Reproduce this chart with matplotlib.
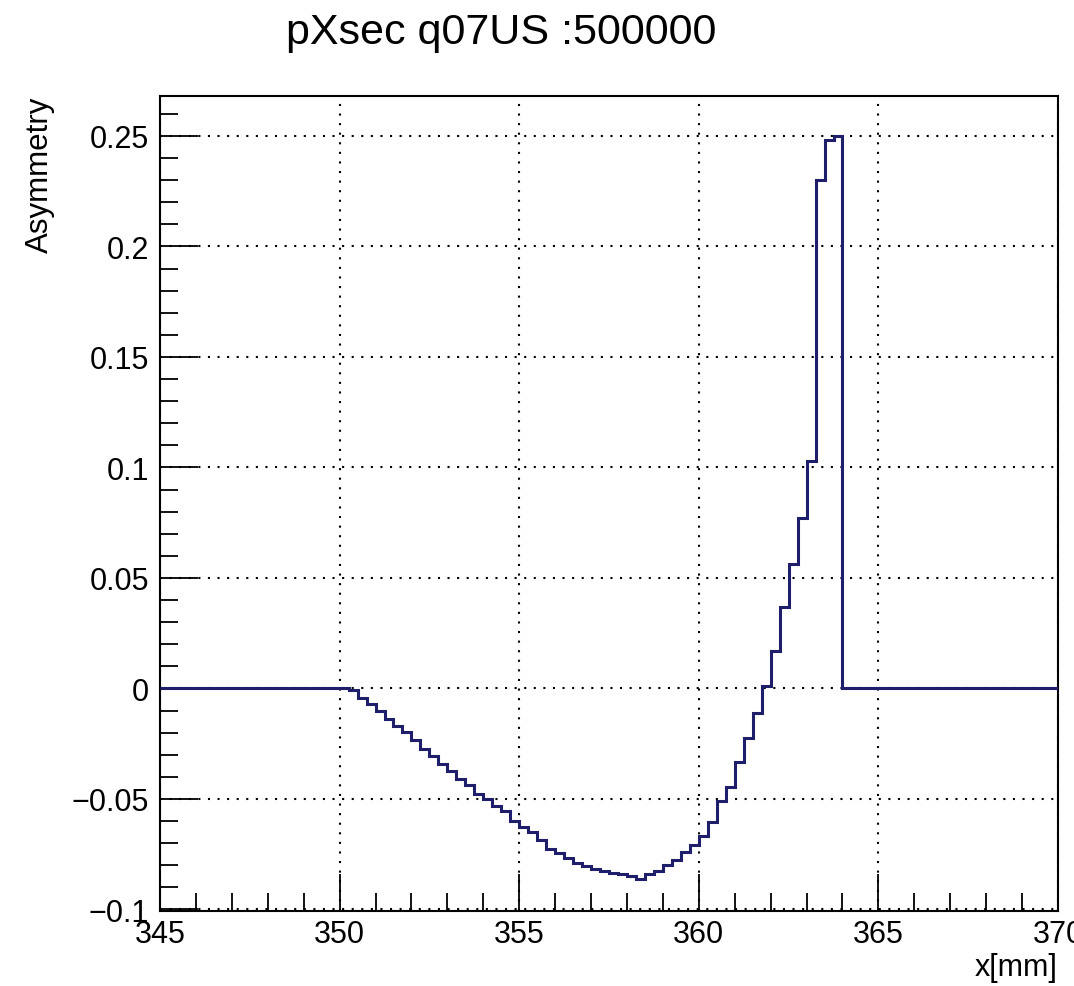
import numpy as np
import matplotlib
matplotlib.use("Agg")
import matplotlib.pyplot as plt
from matplotlib.ticker import MultipleLocator, FuncFormatter

# ---------------- data ----------------
x_low = 345.0
x_high = 370.0
n_bins = 100
title = "pXsec q07US :500000"
x_title = "x[mm]"
y_title = "Asymmetry"

leading_zero_bins = 21
asym_values = [
    -0.0008, -0.0045, -0.0072, -0.0102, -0.0136, -0.0169, -0.0196, -0.0234,
    -0.0272, -0.0305, -0.0341, -0.0375, -0.0408, -0.0438, -0.0477, -0.0502,
    -0.0530, -0.0553, -0.0600, -0.0625, -0.0648, -0.0686, -0.0725, -0.0743,
    -0.0766, -0.0789, -0.0804, -0.0815, -0.0826, -0.0837, -0.0841, -0.0849,
    -0.0863, -0.0838, -0.0827, -0.0801, -0.0774, -0.0741, -0.0710, -0.0668,
    -0.0605, -0.0510, -0.0447, -0.0334, -0.0223, -0.0113, 0.0010, 0.0169,
    0.0368, 0.0562, 0.0773, 0.1030, 0.2300, 0.2483, 0.2502,
]
trailing_zero_bins = n_bins - leading_zero_bins - len(asym_values)
asymmetry = np.array([0.0] * leading_zero_bins + asym_values + [0.0] * trailing_zero_bins)
edges = np.linspace(x_low, x_high, n_bins + 1)

# ---------------- figure ----------------
W, H = 1074, 987
DPI = 100
plt.rcParams['font.family'] = ['Liberation Sans', 'DejaVu Sans']
fig = plt.figure(figsize=(W / DPI, H / DPI), dpi=DPI)
fig.patch.set_facecolor('white')

L, R, T, B = 160, 1058, 97, 912
ax = fig.add_axes([L / W, 1 - B / H, (R - L) / W, (B - T) / H])

line_col = '#1e1e6a'
ax.stairs(asymmetry, edges, color=line_col, linewidth=2.2, baseline=None, zorder=3)

ax.set_xlim(x_low, x_high)
ax.set_ylim(-0.1007, 0.2681)

ax.xaxis.set_major_locator(MultipleLocator(5))
ax.xaxis.set_minor_locator(MultipleLocator(1))
ax.yaxis.set_major_locator(MultipleLocator(0.05))
ax.yaxis.set_minor_locator(MultipleLocator(0.01))

def yfmt(v, pos):
    if abs(v) < 1e-9:
        return "0"
    s = ("%g" % round(v, 3))
    return s.replace('-', '\u2212')

ax.yaxis.set_major_formatter(FuncFormatter(yfmt))
ax.xaxis.set_major_formatter(FuncFormatter(lambda v, p: "%d" % round(v)))

ax.tick_params(axis='both', which='both', direction='in', top=False, right=False,
               colors='black', width=1.3)
ax.tick_params(axis='x', which='major', length=27, labelsize=22, pad=6)
ax.tick_params(axis='x', which='minor', length=13)
ax.tick_params(axis='y', which='major', length=27, labelsize=22, pad=8)
ax.tick_params(axis='y', which='minor', length=13)

for sp in ax.spines.values():
    sp.set_linewidth(1.5)
    sp.set_color('black')

ax.grid(True, which='major', color='black', linewidth=1.5,
        linestyle=(0, (1.0, 3.6)))
ax.set_axisbelow(True)

fig.text(501 / W, 1 - 44 / H, title, ha='center', va='baseline', fontsize=31)
fig.text(40 / W, 1 - T / H, y_title, rotation=90, ha='center', va='top', fontsize=22.5)
fig.text(R / W, 1 - 968 / H, x_title, ha='right', va='center', fontsize=22)

fig.savefig('out.png', dpi=DPI, facecolor='white')
